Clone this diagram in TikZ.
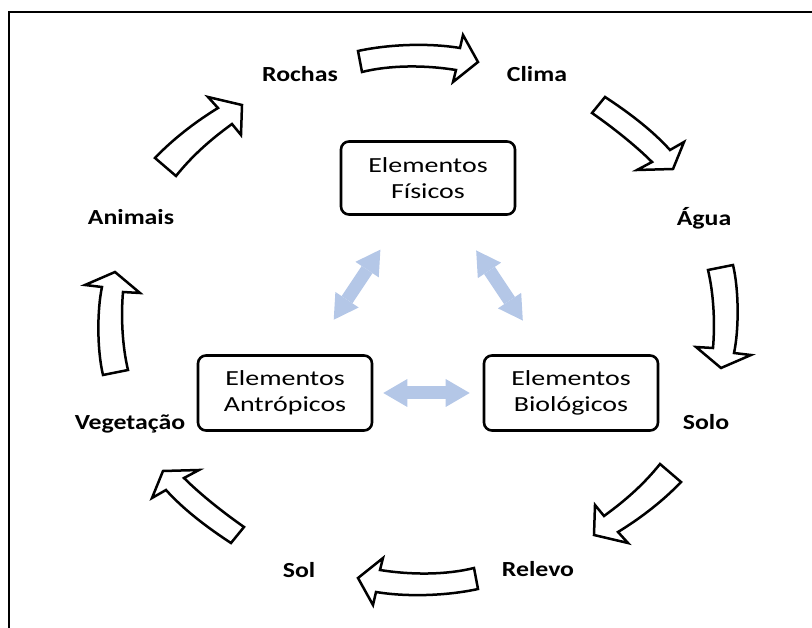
\documentclass[tikz,border=0pt]{standalone}
\usepackage{fontspec}
\setmainfont{Carlito}
\newfontfamily\labelfont{Carlito}[FakeStretch=1.2]
\newfontfamily\boxfont{Carlito}[FakeStretch=1.3]
\usetikzlibrary{arrows.meta}
\definecolor{linkblue}{HTML}{B4C7E7}

\tikzset{
  lbl/.style={font=\labelfont\bfseries\fontsize{21.5}{26}\selectfont, anchor=base, inner sep=0pt},
  elembox/.style={draw, line width=2.6pt, rounded corners=8pt, minimum width=174pt,
    minimum height=75pt, align=center, inner sep=0pt,
    font=\boxfont\fontsize{21.5}{26}\selectfont},
  linktip/.tip={Triangle[length=24pt,width=28pt,line width=0pt]},
  link/.style={draw=linkblue, line width=13pt, linktip-linktip},
  cycarrow/.style={draw, fill=white, line width=2.5pt, line join=miter},
  frameline/.style={line width=2pt}
}

% four of the cycle's block arrows; the other four are the same turned half round
\newcommand\cyclearrows{%
  % Rochas -> Clima
  \path[cycarrow] (358,51) .. controls (390,44) and (430,43) .. (460,48) -- (463,35)
    -- (478,62) -- (453,82) -- (456,70) .. controls (425,65) and (390,65) .. (362,72) -- cycle;
  % Clima -> Agua
  \path[cycarrow] (592,113) -- (605,97) .. controls (628,112) and (652,130) .. (670,150)
    -- (684,142) -- (673,169) -- (637,170) -- (652,162)
    .. controls (635,145) and (612,127) .. (592,113) -- cycle;
  % Vegetacao -> Animais
  \path[cycarrow] (103,375) .. controls (97,350) and (97,310) .. (102,287) -- (85,285)
    -- (115,272) -- (140,293) -- (123,292) .. controls (121,315) and (122,345) .. (128,370) -- cycle;
  % Animais -> Rochas
  \path[cycarrow] (155,158) .. controls (172,140) and (195,122) .. (218,108) -- (208,97)
    -- (242,105) -- (241,135) -- (232,124) .. controls (210,140) and (192,156) .. (176,176) -- cycle;
}

\begin{document}
\begin{tikzpicture}[x=1pt, y=-1pt]
  \useasboundingbox (0,0) rectangle (812,628);
  \draw[frameline] (812,12) -- (9,12) -- (9,628);

  % cycle labels
  \node[lbl] (rochas) at (300,82)  {Rochas};
  \node[lbl] (clima)  at (537,82)  {Clima};
  \node[lbl] (agua)   at (704,226) {Água};
  \node[lbl] (solo)   at (706,430) {Solo};
  \node[lbl] (relevo) at (538,576) {Relevo};
  \node[lbl] (sol)    at (299,577) {Sol};
  \node[lbl] (veg)    at (130,430) {Vegetação};
  \node[lbl] (anim)   at (131,225) {Animais};

  % cycle arrows
  \cyclearrows
  \begin{scope}[rotate around={180:(418,320)}]
    \cyclearrows
  \end{scope}

  % element boxes
  \node[elembox, minimum height=73pt] (fis) at (428,178) {Elementos\\Físicos};
  \node[elembox] (ant) at (285,393) {Elementos\\Antrópicos};
  \node[elembox] (bio) at (571,393) {Elementos\\Biológicos};

  % links between the elements
  \draw[link, shorten <=10pt, shorten >=13pt] (ant.east) -- (bio.west);
  \draw[link, shorten <=88pt, shorten >=86pt] (ant.center) -- (fis.center);
  \draw[link, shorten <=87pt, shorten >=87pt] (fis.center) -- (bio.center);
\end{tikzpicture}
\end{document}
